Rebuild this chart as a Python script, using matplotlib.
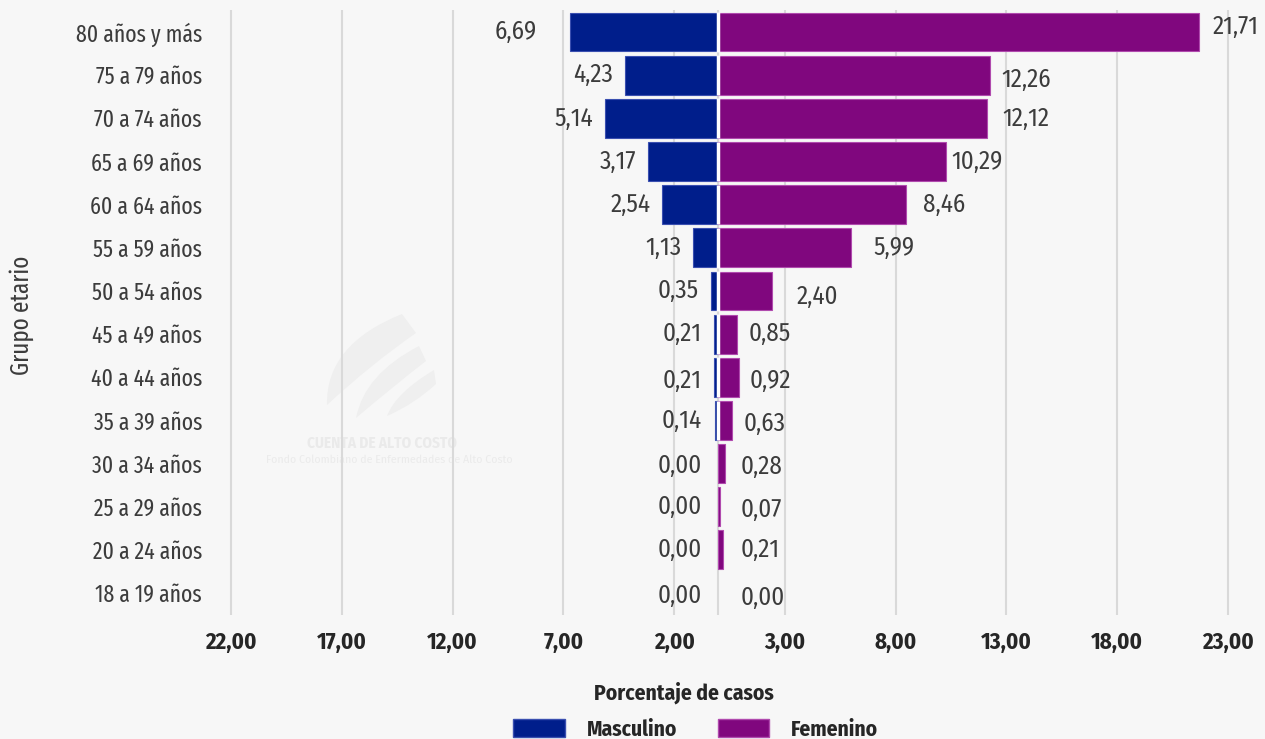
import numpy as np
import matplotlib
matplotlib.use('Agg')
import matplotlib.pyplot as plt
from matplotlib.patches import Patch, PathPatch
from matplotlib.path import Path

plt.rcParams['font.family'] = ['Fira Sans Condensed', 'DejaVu Sans']

grupos = ['80 años y más', '75 a 79 años', '70 a 74 años', '65 a 69 años',
          '60 a 64 años', '55 a 59 años', '50 a 54 años', '45 a 49 años',
          '40 a 44 años', '35 a 39 años', '30 a 34 años', '25 a 29 años',
          '20 a 24 años', '18 a 19 años']
masculino = [6.69, 4.23, 5.14, 3.17, 2.54, 1.13, 0.35, 0.21, 0.21, 0.14, 0.00, 0.00, 0.00, 0.00]
femenino = [21.71, 12.26, 12.12, 10.29, 8.46, 5.99, 2.40, 0.85, 0.92, 0.63, 0.28, 0.07, 0.21, 0.00]
ticks = [-22, -17, -12, -7, -2, 3, 8, 13, 18, 23]

# manual nudges for the data labels (pixels), like hand-placed labels in the sheet
nudge_m = {0: (-21, 0), 8: (0, 3), 10: (0, 2), 13: (0, 3)}
nudge_f = {0: (2, -5), 1: (0, 5), 2: (4, 0), 3: (-6, 0), 4: (6, 0), 5: (11, 0),
           6: (14, 6), 8: (0, 3), 9: (0, 3), 10: (0, 3), 11: (0, 3), 13: (0, 5)}

azul = '#001E8B'
morado = '#80077E'
fondo = '#F7F7F7'
gris = '#3c3c3c'
W, H = 1265, 739

fig = plt.figure(figsize=(W / 100, H / 100), dpi=100, facecolor=fondo)
ax = fig.add_axes([0.1651, 0.1683, 0.8232, 0.8176], facecolor='none')


def px(x, y):
    return (x / W, 1 - y / H)


def hoja(p0, m1, p1, p2, m2):
    # blade shape: outer curve p0->p1 through m1, tip p1->p2, inner curve back through m2
    c1 = 2 * np.array(m1) - (np.array(p0) + np.array(p1)) / 2
    c2 = 2 * np.array(m2) - (np.array(p2) + np.array(p0)) / 2
    verts = [px(*p0), px(*c1), px(*p1), px(*p2), px(*c2), px(*p0), px(*p0)]
    codes = [Path.MOVETO, Path.CURVE3, Path.CURVE3, Path.LINETO,
             Path.CURVE3, Path.CURVE3, Path.CLOSEPOLY]
    return PathPatch(Path(verts, codes), transform=fig.transFigure,
                     facecolor='#efefef', edgecolor='none', zorder=-1)


# faint logo behind the chart
for args in [((327, 405), (345, 352), (402, 314), (416, 333), (372, 366)),
             ((356, 418), (376, 378), (419, 346), (426, 361), (392, 388)),
             ((387, 416), (403, 393), (434, 370), (436, 384), (413, 402))]:
    fig.patches.append(hoja(*args))
fig.text(px(382, 443)[0], px(382, 443)[1], 'CUENTA DE ALTO COSTO', ha='center', va='center',
         fontsize=11, fontweight='bold', color='#eaeaea', zorder=-1)
fig.text(px(389, 460)[0], px(389, 460)[1], 'Fondo Colombiano de Enfermedades de Alto Costo',
         ha='center', va='center', fontsize=8.5, color='#ebebeb', zorder=-1)

y = np.arange(len(grupos))
m = np.array(masculino)
f = np.array(femenino)

ax.axvline(0, color='#d9d9d9', lw=1.5, zorder=1)
ax.barh(y, -m, height=0.9, color=azul, edgecolor=['#3a4fb0' if v > 0 else 'none' for v in m],
        linewidth=0.8, zorder=3)
ax.barh(y, f, height=0.9, color=morado, edgecolor=['#b04aae' if v > 0 else 'none' for v in f],
        linewidth=0.8, zorder=3)
# white gap between the halves, only where both bars are drawn
for i in y[m > 0]:
    ax.vlines(0, i - 0.46, i + 0.46, color='white', lw=2.5, zorder=4)

for i in range(len(grupos)):
    dx, dy = nudge_m.get(i, (0, 0))
    ax.annotate(f'{m[i]:.2f}'.replace('.', ','), xy=(-max(m[i], 0.2), i),
                xytext=(-12 + dx, -dy), textcoords='offset pixels',
                ha='right', va='center', fontsize=18, color=gris)
    dx, dy = nudge_f.get(i, (0, 0))
    ax.annotate(f'{f[i]:.2f}'.replace('.', ','), xy=(max(f[i] + 0.5, 1.0), i),
                xytext=(dx, -dy), textcoords='offset pixels',
                ha='left', va='center', fontsize=18, color=gris)

ax.set_xlim(-23, 24)
ax.set_ylim(len(grupos) - 0.5, -0.5)
ax.set_xticks(ticks)
ax.set_xticklabels([f'{abs(t):.2f}'.replace('.', ',') for t in ticks],
                   fontsize=16.5, fontweight='bold', color='#262626')
ax.set_yticks(y)
ax.set_yticklabels(grupos, fontsize=17, color=gris,
                   family=['Fira Sans Extra Condensed', 'DejaVu Sans'])
ax.tick_params(axis='x', length=0, pad=12)
ax.tick_params(axis='y', length=0, pad=5)
ax.grid(axis='x', color='#d9d9d9', lw=1.5, zorder=0)
ax.set_axisbelow(True)
for s in ax.spines.values():
    s.set_visible(False)

fig.text(0.017, 0.573, 'Grupo etario', rotation=90, ha='center', va='center',
         fontsize=18, color=gris, family=['Fira Sans Extra Condensed', 'DejaVu Sans'])
fig.text(0.541, 0.063, 'Porcentaje de casos', ha='center', va='center',
         fontsize=15.5, fontweight='bold', color='#262626')

handles = [Patch(facecolor=azul, edgecolor='#3a4fb0'), Patch(facecolor=morado, edgecolor='#b04aae')]
fig.legend(handles, ['Masculino', 'Femenino'], loc='center', ncol=2,
           bbox_to_anchor=(0.550, 0.013), frameon=False, handlelength=2.4,
           handleheight=0.9, handletextpad=1.0, columnspacing=1.9,
           prop={'size': 15.5, 'weight': 'bold'}, labelcolor='#262626')

fig.savefig('out.png', facecolor=fondo)
